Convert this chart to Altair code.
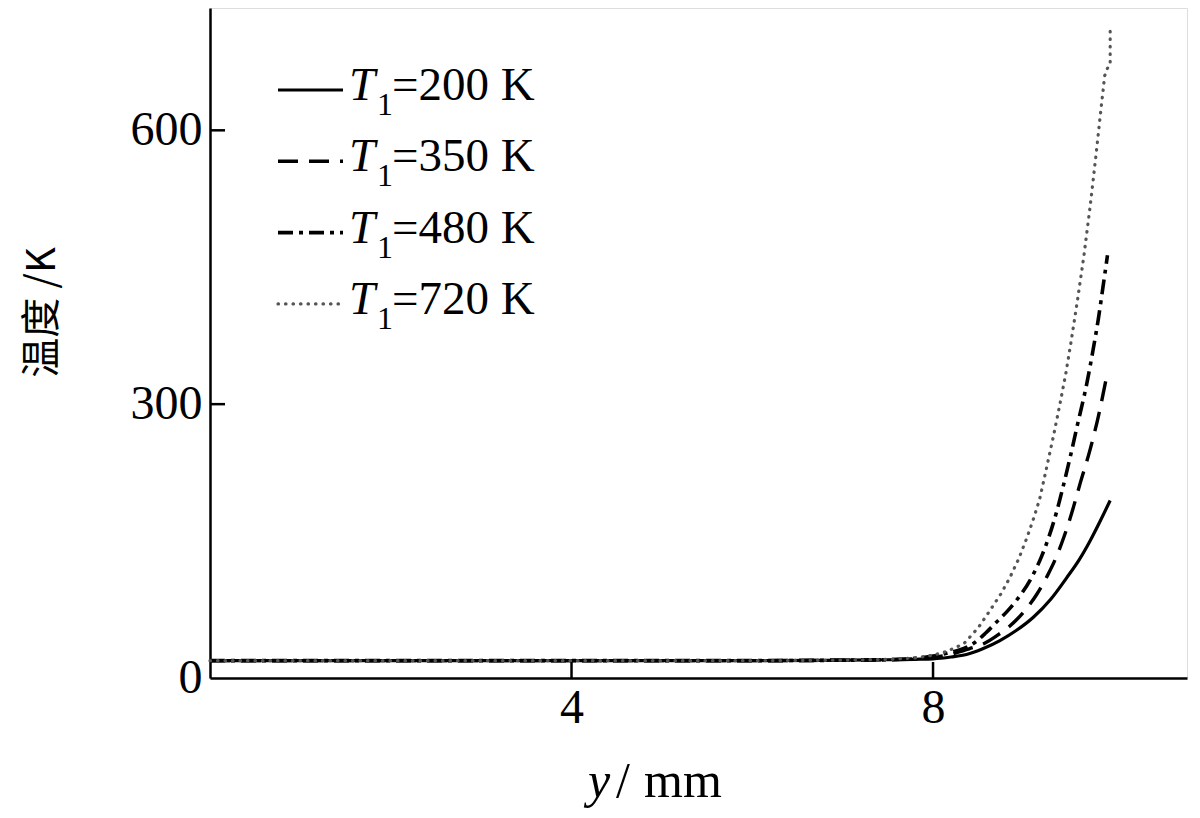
import altair as alt
import pandas as pd

# ---------------- data ----------------
series_names = ["200 K", "350 K", "480 K", "720 K"]
legend_labels = ["=200 K", "=350 K", "=480 K", "=720 K"]

x_200 = [0, 2, 4, 6, 7, 7.5, 7.8, 8.0, 8.2, 8.37, 8.55, 8.74, 8.92, 9.11, 9.3, 9.48, 9.62, 9.74, 9.85, 9.96]
t_200 = [19, 19, 19, 19, 19.5, 20, 20.5, 21, 23, 25.7, 32, 41, 52, 66.6, 86, 110, 130, 150.7, 172, 194.5]

x_350 = [0, 2, 4, 6, 7, 7.5, 7.8, 8.0, 8.2, 8.4, 8.56, 8.7, 8.85, 9.0, 9.15, 9.27, 9.37, 9.45, 9.52, 9.63, 9.74, 9.83, 9.93]
t_350 = [19, 19, 19, 19, 19.5, 20, 21, 22.5, 26, 32, 37.5, 46, 57, 72, 92, 113, 134, 155, 176, 214, 251, 287, 335]

x_480 = [0, 2, 4, 6, 7, 7.5, 7.8, 8.0, 8.15, 8.3, 8.45, 8.58, 8.70, 8.82, 8.93, 9.09, 9.2, 9.29, 9.37, 9.44, 9.52, 9.59, 9.70, 9.77, 9.83, 9.88, 9.93]
t_480 = [19, 19, 19, 19, 19.5, 20, 21.5, 24, 27, 31, 38, 49, 61, 73, 86, 110, 133, 157, 183, 210, 243, 274, 322, 359, 394, 428, 463]

x_720 = [0, 2, 4, 6, 7, 7.5, 7.8, 8.0, 8.15, 8.34, 8.5, 8.63, 8.75, 8.85, 8.95, 9.04, 9.11, 9.18, 9.26, 9.33, 9.40, 9.47, 9.53, 9.60, 9.67, 9.74, 9.80, 9.86, 9.90, 9.93, 9.96, 9.96]
t_720 = [19, 19, 19, 19, 19.5, 20.5, 22, 25, 29, 37.5, 55, 74, 92, 110, 131, 154, 174, 196, 232, 264, 298, 334, 370, 415, 463, 518, 570, 625, 660, 668, 672, 713]

x_ticks = [4, 8]
y_ticks = [0, 300, 600]

# ---------------- build table ----------------
rows = []
for name, xs, ts in zip(series_names, [x_200, x_350, x_480, x_720], [t_200, t_350, t_480, t_720]):
    for i, (xv, tv) in enumerate(zip(xs, ts)):
        rows.append({"series": name, "y_mm": xv, "temp": tv, "order": i})
df = pd.DataFrame(rows)

FONT = "Liberation Serif"
CJK = "Noto Sans CJK SC"
W, H = 977, 670

x_scale = alt.Scale(domain=[0, 10.81], nice=False, zero=False)
y_scale = alt.Scale(domain=[0, 734], nice=False)

x_axis = alt.Axis(values=x_ticks, ticks=False, tickSize=0, labelPadding=6, labelFont=FONT,
                  labelFontSize=48, labelColor="black", domainColor="black", domainWidth=2.5,
                  grid=False, title=None, format="d")
y_axis = alt.Axis(values=y_ticks, ticks=False, tickSize=0, labelPadding=8, labelFont=FONT,
                  labelFontSize=48, labelColor="black", domainColor="black", domainWidth=2.5,
                  grid=False, format="d", title="温度 /K", titleFont=CJK, titleFontSize=40,
                  titleFontWeight="normal", titleColor="black", titleAngle=270,
                  titleX=-168, titleY=304, titleAlign="center", titleBaseline="middle")

styles = [
    dict(strokeWidth=3.2, color="black"),
    dict(strokeWidth=3.4, color="black", strokeDash=[20, 11]),
    dict(strokeWidth=3.6, color="black", strokeDash=[15, 6, 4, 6]),
    dict(strokeWidth=3.2, color="#555555", strokeDash=[0.5, 7], strokeCap="round"),
]
interps = ["monotone", "monotone", "monotone", "linear"]

layers = []
for name, st, ip in zip(series_names, styles, interps):
    layers.append(
        alt.Chart(df).transform_filter(alt.datum.series == name)
        .mark_line(interpolate=ip, **st)
        .encode(
            x=alt.X("y_mm:Q", scale=x_scale, axis=x_axis),
            y=alt.Y("temp:Q", scale=y_scale, axis=y_axis),
            order="order:Q",
        )
    )

# inward tick marks
xt = pd.DataFrame({"v": x_ticks})
layers.append(
    alt.Chart(xt).mark_rule(color="black", strokeWidth=2.5)
    .encode(x=alt.X("v:Q", scale=x_scale, axis=x_axis), y=alt.value(H), y2=alt.value(H - 16))
)
yt = pd.DataFrame({"v": [v for v in y_ticks if v > 0]})
layers.append(
    alt.Chart(yt).mark_rule(color="black", strokeWidth=2.5)
    .encode(y=alt.Y("v:Q", scale=y_scale, axis=y_axis), x=alt.value(0), x2=alt.value(15))
)

# legend (custom, to allow italic T with subscript 1)
for i, (lab, st) in enumerate(zip(legend_labels, styles)):
    yc = 82 + 71.3 * i
    layers.append(
        alt.Chart(pd.DataFrame({"k": [lab]})).mark_rule(**st)
        .encode(x=alt.value(68), x2=alt.value(133), y=alt.value(yc))
    )
    layers.append(
        alt.Chart(pd.DataFrame({"k": ["T"]})).mark_text(
            font=FONT, fontSize=47, fontStyle="italic", align="left", baseline="alphabetic", color="black")
        .encode(text="k:N", x=alt.value(139), y=alt.value(yc + 10))
    )
    layers.append(
        alt.Chart(pd.DataFrame({"k": ["1"]})).mark_text(
            font=FONT, fontSize=32, align="left", baseline="alphabetic", color="black")
        .encode(text="k:N", x=alt.value(167), y=alt.value(yc + 25))
    )
    layers.append(
        alt.Chart(pd.DataFrame({"k": [lab]})).mark_text(
            font=FONT, fontSize=47, align="left", baseline="alphabetic", color="black")
        .encode(text="k:N", x=alt.value(182), y=alt.value(yc + 10))
    )

# x-axis title "y/mm" with italic y
for txt, xpos, style in [("y", 378, "italic"), ("/", 406, "normal"), ("mm", 434, "normal")]:
    layers.append(
        alt.Chart(pd.DataFrame({"k": [txt]})).mark_text(
            font=FONT, fontSize=50, fontStyle=style, align="left", baseline="alphabetic", color="black")
        .encode(text="k:N", x=alt.value(xpos), y=alt.value(789))
    )

chart = (
    alt.layer(*layers)
    .properties(width=W, height=H, autosize=alt.AutoSizeParams(type="none"),
                padding={"left": 202, "top": 0, "right": 5, "bottom": 135})
    .configure_view(stroke=None)
    .configure(background="white")
)

chart.save("out.html", embed_options={"renderer": "svg", "actions": False})
